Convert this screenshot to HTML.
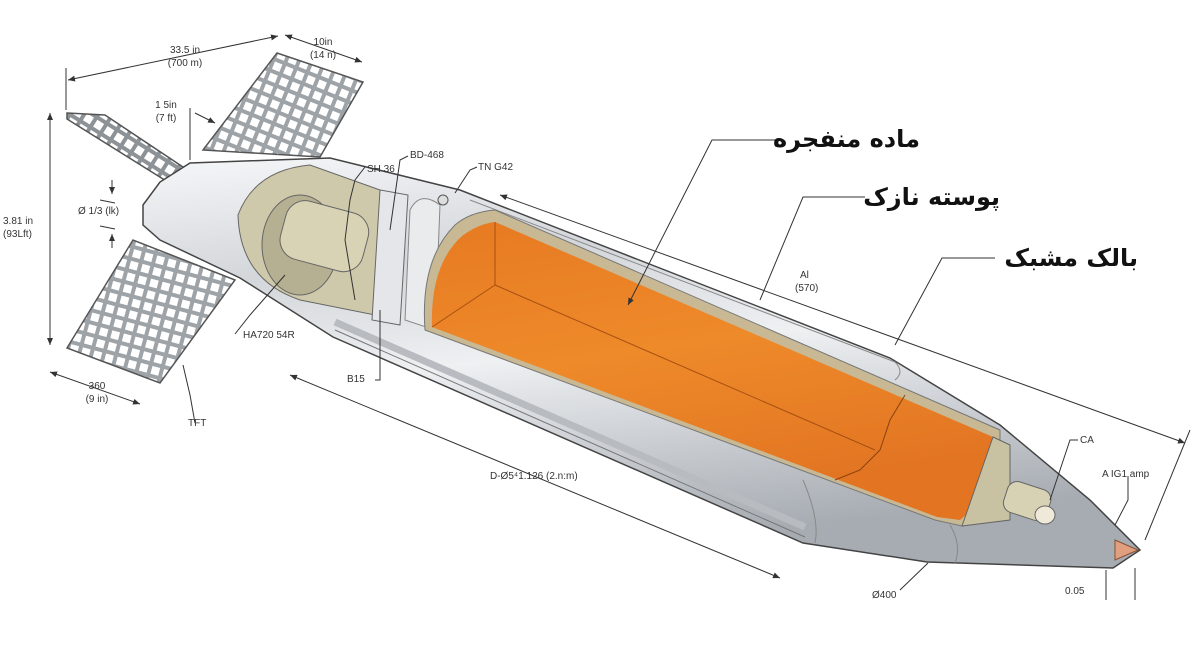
<!DOCTYPE html>
<html><head><meta charset="utf-8"><style>
html,body{margin:0;padding:0;background:#fff;width:1200px;height:655px;overflow:hidden}
svg{display:block}
.t{font-family:"Liberation Sans",sans-serif;font-size:10px;fill:#333}
.fa{font-family:"DejaVu Sans",sans-serif;font-size:24px;font-weight:bold;fill:#111}
.d{stroke:#333;stroke-width:1;fill:none}
</style></head><body>
<svg width="1200" height="655" viewBox="0 0 1200 655">
<defs>
<linearGradient id="metal" x1="0" y1="0" x2="0.25" y2="1">
<stop offset="0" stop-color="#f6f7f9"/><stop offset="0.3" stop-color="#d3d6da"/><stop offset="0.55" stop-color="#eef0f2"/><stop offset="0.8" stop-color="#c6cacf"/><stop offset="1" stop-color="#a7acb2"/></linearGradient>
<linearGradient id="org" x1="0" y1="0" x2="0.3" y2="1">
<stop offset="0" stop-color="#e77a22"/><stop offset="0.5" stop-color="#ee8a2a"/><stop offset="1" stop-color="#e27422"/></linearGradient>
<pattern id="grid" width="12" height="12" patternUnits="userSpaceOnUse" patternTransform="rotate(22)">
<rect width="12" height="12" fill="#9ea3a8"/><rect x="2" y="2" width="8" height="8" fill="#fff"/></pattern>
<pattern id="grid2" width="12" height="12" patternUnits="userSpaceOnUse" patternTransform="rotate(32)">
<rect width="12" height="12" fill="#8d9297"/><rect x="2" y="2" width="8" height="8" fill="#fff"/></pattern>
<pattern id="grid3" width="12" height="12" patternUnits="userSpaceOnUse" patternTransform="rotate(15)">
<rect width="12" height="12" fill="#9ea3a8"/><rect x="2" y="2" width="8" height="8" fill="#fff"/></pattern>
<marker id="a" markerWidth="8" markerHeight="8" refX="7" refY="4" orient="auto-start-reverse"><path d="M0,1 L7,4 L0,7z" fill="#333"/></marker>
</defs>

<!-- fins -->
<polygon points="277,53 363,82 320,157 203,150" fill="url(#grid)" stroke="#555" stroke-width="1.5"/>
<polygon points="67,113 105,115 240,205 232,222 67,119" fill="url(#grid2)" stroke="#555" stroke-width="1.5"/>
<polygon points="67,348 133,240 235,280 160,383" fill="url(#grid3)" stroke="#555" stroke-width="1.5"/>

<!-- body -->
<polygon points="143,205 160,182 190,163 330,158 460,190 890,358 1000,425 1090,500 1140,550 1113,568 927,562 803,543 333,337 240,278 160,240 143,225" fill="url(#metal)" stroke="#444" stroke-width="1.5"/>
<path d="M335,322 L805,527" stroke="#b8bcc1" stroke-width="7" fill="none"/>
<path d="M335,330 L805,537" stroke="#777" stroke-width="1" fill="none"/>
<path d="M470,200 L895,362" stroke="#888" stroke-width="1" fill="none"/>
<path d="M895,362 Q905,372 895,380" stroke="#888" fill="none"/>
<path d="M803,480 Q820,520 815,543" stroke="#888" fill="none"/>
<path d="M950,525 Q962,545 955,563" stroke="#888" fill="none"/>
<!-- rear cutaway -->
<path d="M238,215 Q255,170 310,165 L380,190 L400,320 L300,300 Q240,280 238,215z" fill="#cfc9ab" stroke="#666"/>
<ellipse cx="300" cy="245" rx="38" ry="50" fill="#b5b091" stroke="#666"/>
<rect x="282" y="205" width="85" height="60" rx="20" fill="#d9d3b5" stroke="#666" transform="rotate(15 320 235)"/>
<path d="M380,190 L408,195 L400,325 L372,320z" fill="#e4e6e9" stroke="#666"/>
<path d="M410,210 Q420,190 440,205 L435,330 L405,320z" fill="#e9ebed" stroke="#888"/>
<!-- explosive core -->
<path d="M425,330 Q420,260 455,225 Q470,212 495,210 L1000,430 L1000,495 L962,526 L935,520z" fill="#c8b893" stroke="#777"/>
<path d="M432,327 Q430,265 462,236 Q478,224 495,222 L993,437 L995,490 L960,520 L937,517z" fill="url(#org)"/>
<path d="M495,222 L495,285 L875,450 M495,285 L432,327" stroke="#a84f12" stroke-width="1" fill="none"/>
<path d="M880,450 L890,420 L905,395 M880,450 L860,470 L835,480" stroke="#8a4010" stroke-width="1" fill="none"/>
<!-- nose parts -->
<path d="M993,437 L1010,445 L1010,520 L962,526z" fill="#c8c2a2" stroke="#666"/>
<rect x="1005" y="485" width="45" height="32" rx="10" fill="#d8d2b4" stroke="#666" transform="rotate(18 1027 500)"/>
<ellipse cx="1045" cy="515" rx="10" ry="9" fill="#eee9d8" stroke="#666"/>
<path d="M1115,540 L1138,550 L1115,560z" fill="#e0a080" stroke="#8a5030"/>
<circle cx="443" cy="200" r="5" fill="#ddd" stroke="#555"/>

<!-- dimension lines -->
<line x1="68" y1="80" x2="278" y2="36" class="d" marker-start="url(#a)" marker-end="url(#a)"/>
<line x1="66" y1="68" x2="66" y2="110" class="d"/>
<line x1="285" y1="35" x2="362" y2="62" class="d" marker-start="url(#a)" marker-end="url(#a)"/>
<line x1="50" y1="113" x2="50" y2="345" class="d" marker-start="url(#a)" marker-end="url(#a)"/>
<line x1="50" y1="372" x2="140" y2="404" class="d" marker-start="url(#a)" marker-end="url(#a)"/>
<line x1="290" y1="375" x2="780" y2="578" class="d" marker-start="url(#a)" marker-end="url(#a)"/>
<line x1="500" y1="195" x2="1185" y2="443" class="d" marker-start="url(#a)" marker-end="url(#a)"/>
<line x1="1145" y1="540" x2="1190" y2="430" class="d"/>
<line x1="928" y1="563" x2="900" y2="590" class="d"/>
<line x1="1106" y1="570" x2="1106" y2="600" class="d"/><line x1="1135" y1="568" x2="1135" y2="600" class="d"/>
<line x1="190" y1="108" x2="190" y2="160" class="d"/><line x1="195" y1="113" x2="215" y2="123" class="d" marker-end="url(#a)"/>
<polyline points="355,300 350,270 345,240 350,200 355,180 365,167" class="d"/>
<polyline points="390,230 400,160 408,156" class="d"/>
<polyline points="455,193 470,170 477,167" class="d"/>
<polyline points="235,334 250,315 285,275" class="d"/>
<polyline points="375,380 380,380 380,310" class="d"/>
<polyline points="195,423 190,395 183,365" class="d"/>
<polyline points="1078,440 1070,440 1050,500" class="d"/>
<polyline points="1128,476 1128,500 1115,525" class="d"/>
<line x1="100" y1="200" x2="115" y2="203" class="d"/><line x1="100" y1="226" x2="115" y2="229" class="d"/>
<line x1="112" y1="180" x2="112" y2="194" class="d" marker-end="url(#a)"/><line x1="112" y1="248" x2="112" y2="234" class="d" marker-end="url(#a)"/>
<!-- callout leaders -->
<polyline points="775,140 712,140 628,305" class="d" marker-end="url(#a)"/>
<polyline points="865,197 803,197 760,300" class="d"/>
<polyline points="995,258 942,258 895,345" class="d"/>

<!-- labels -->
<text class="t" x="185" y="53" text-anchor="middle">33.5 in</text>
<text class="t" x="185" y="66" text-anchor="middle">(700 m)</text>
<text class="t" x="323" y="45" text-anchor="middle">10in</text>
<text class="t" x="323" y="58" text-anchor="middle">(14 n)</text>
<text class="t" x="166" y="108" text-anchor="middle">1 5in</text>
<text class="t" x="166" y="121" text-anchor="middle">(7 ft)</text>
<text class="t" x="78" y="214">Ø 1/3 (lk)</text>
<text class="t" x="3" y="224">3.81 in</text>
<text class="t" x="3" y="237">(93Lft)</text>
<text class="t" x="97" y="389" text-anchor="middle">360</text>
<text class="t" x="97" y="402" text-anchor="middle">(9 in)</text>
<text class="t" x="188" y="426">TFT</text>
<text class="t" x="367" y="172">SH 36</text>
<text class="t" x="410" y="158">BD-468</text>
<text class="t" x="478" y="170">TN G42</text>
<text class="t" x="243" y="338">HA720 54R</text>
<text class="t" x="347" y="382">B15</text>
<text class="t" x="490" y="479">D-Ø5⁴1.126 (2.n:m)</text>
<text class="t" x="800" y="278">Al</text>
<text class="t" x="795" y="291">(570)</text>
<text class="t" x="1080" y="443">CA</text>
<text class="t" x="1102" y="477">A IG1 amp</text>
<text class="t" x="872" y="598">Ø400</text>
<text class="t" x="1065" y="594">0.05</text>
<text class="fa" x="920" y="147" text-anchor="end">ماده منفجره</text>
<text class="fa" x="1000" y="205" text-anchor="end">پوسته نازک</text>
<text class="fa" x="1138" y="266" text-anchor="end">بالک مشبک</text>
</svg>
</body></html>
